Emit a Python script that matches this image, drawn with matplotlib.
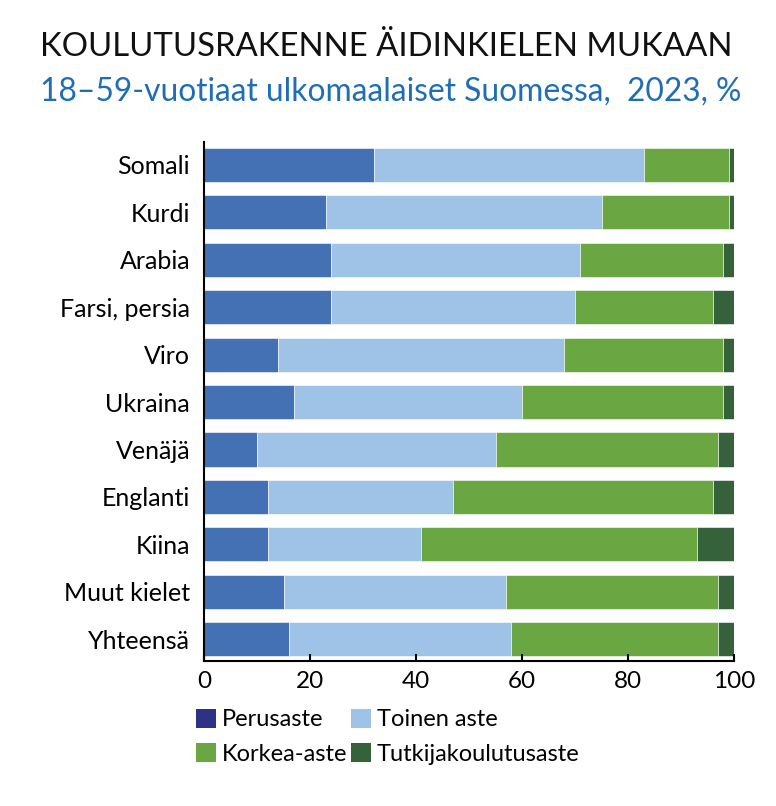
import numpy as np
import matplotlib
matplotlib.use("Agg")
import matplotlib.pyplot as plt
from matplotlib.patches import Patch

plt.rcParams['font.family'] = ['Lato', 'DejaVu Sans']

languages = ["Somali", "Kurdi", "Arabia", "Farsi, persia", "Viro", "Ukraina",
             "Venäjä", "Englanti", "Kiina", "Muut kielet", "Yhteensä"]
perusaste = [32, 23, 24, 24, 14, 17, 10, 12, 12, 15, 16]
toinen_aste = [51, 52, 47, 46, 54, 43, 45, 35, 29, 42, 42]
korkea_aste = [16, 24, 27, 26, 30, 38, 42, 49, 52, 40, 39]
tutkija = [1, 1, 2, 4, 2, 2, 3, 4, 7, 3, 3]

series_names = ["Perusaste", "Toinen aste", "Korkea-aste", "Tutkijakoulutusaste"]
bar_colors = ["#4470b4", "#9fc3e6", "#6aa641", "#35623a"]
legend_colors = ["#2e3287", "#9fc3e6", "#6aa641", "#35623a"]

fig = plt.figure(figsize=(7.76, 8.06), dpi=100)
ax = fig.add_axes([204/776, 1 - 661/806, 530/776, 519/806])

y = np.arange(len(languages))
left = np.zeros(len(languages))
for vals, col in zip([perusaste, toinen_aste, korkea_aste, tutkija], bar_colors):
    ax.barh(y, vals, left=left, height=0.72, color=col, edgecolor="white", linewidth=0.4)
    left += np.array(vals)

ax.set_ylim(10.46, -0.485)
ax.set_xlim(0, 100)
ax.set_yticks(y)
ax.set_yticklabels(languages, fontsize=18)
ax.set_xticks([0, 20, 40, 60, 80, 100])
ax.tick_params(axis='y', length=0, pad=10)
ax.tick_params(axis='x', direction='in', length=5, width=1.5, labelsize=17.5, pad=7)
for s in ["top", "right"]:
    ax.spines[s].set_visible(False)
ax.spines["left"].set_linewidth(1.5)
ax.spines["bottom"].set_linewidth(1.5)

fig.text(40/776, 1 - 47/806, "KOULUTUSRAKENNE ÄIDINKIELEN MUKAAN", fontsize=23.7,
         va="center", ha="left", color="#111111")
fig.text(40/776, 1 - 92/806, "18–59-vuotiaat ulkomaalaiset Suomessa,  2023, %",
         fontsize=22.9, va="center", ha="left", color="#1f6db5")

handles = [Patch(facecolor=legend_colors[i], label=series_names[i]) for i in [0, 2, 1, 3]]
fig.legend(handles=handles, ncol=2, loc="upper left", bbox_to_anchor=(184/776, 1 - 697/806),
           frameon=False, fontsize=17, handlelength=0.85, handleheight=0.85,
           handletextpad=0.25, columnspacing=0.15, labelspacing=0.55, borderpad=0)

fig.savefig("out.png", dpi=100)
